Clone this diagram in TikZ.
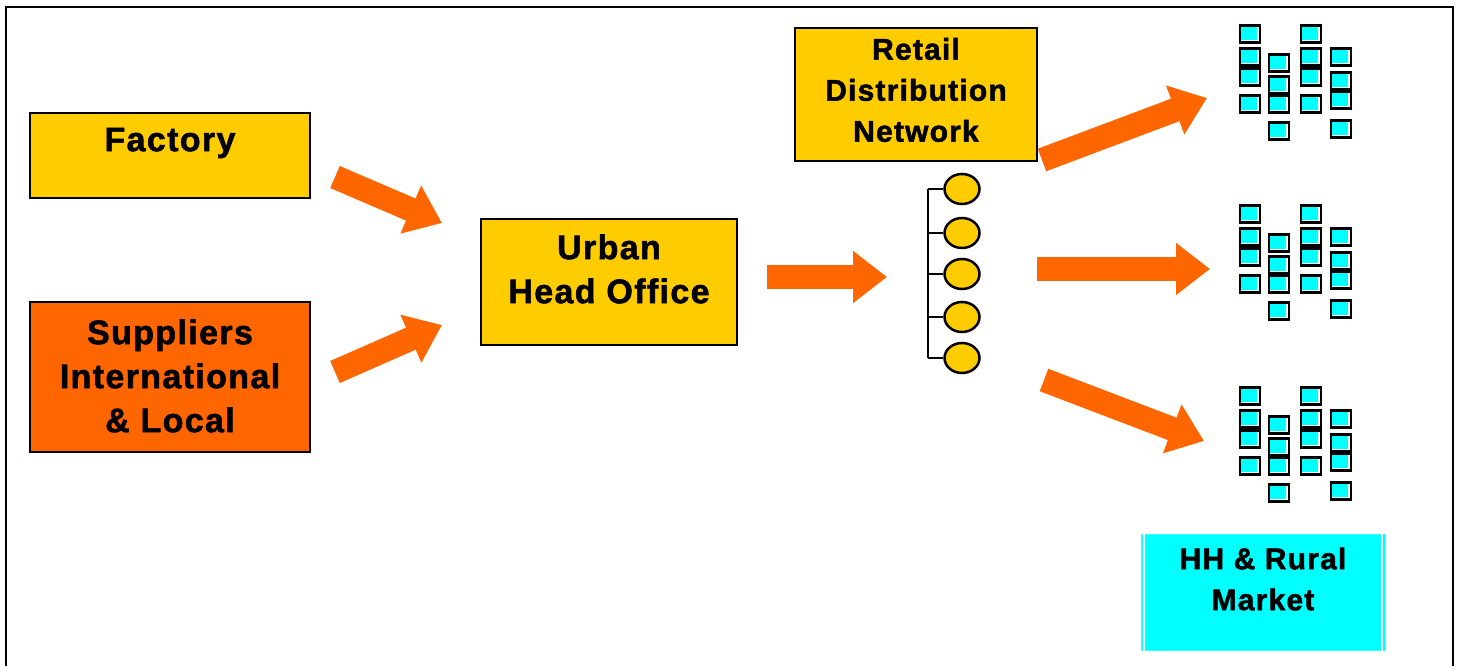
\documentclass[tikz,border=0pt]{standalone}
\usepackage{fontspec}
\newfontfamily\labfont{Liberation Sans}[UprightFont={* Bold}, FakeBold=1.6, LetterSpace=4]
\usetikzlibrary{arrows.meta,shapes.geometric}
\definecolor{gold}{HTML}{FFCC00}
\definecolor{flame}{HTML}{FF6600}
\definecolor{aqua}{HTML}{00FFFF}
\tikzset{
  box/.style={draw=black, line width=2pt, rectangle, inner sep=0pt},
  lbl/.style={font=\labfont\fontsize{34}{44}\selectfont, align=center, inner sep=0pt},
  smalllbl/.style={font=\labfont\fontsize{30}{41}\selectfont, align=center, inner sep=0pt},
  blockarrow/.style={draw=flame, line width=24pt,
    -{Triangle[width=50pt,length=34pt]}},
  outlet/.style={ellipse, draw=black, line width=2.5pt, fill=gold,
    minimum width=35pt, minimum height=30pt, inner sep=0pt},
  stem/.style={draw=black, line width=2.5pt},
  frame/.style={draw=black, line width=2pt},
}
\begin{document}
\begin{tikzpicture}[x=1pt,y=-1pt]
\useasboundingbox (0,0) rectangle (1460,666);
\fill[white] (0,0) rectangle (1460,666);

% outer frame, open at the bottom
\draw[frame] (6,670) -- (6,7) -- (1453,7) -- (1453,670);

% source boxes
\node[box, fill=gold, minimum width=280pt, minimum height=85pt] (factory) at (170,155.5) {};
\node[lbl] (factoryT) at (170,143) {Factory};
\node[box, fill=flame, minimum width=280pt, minimum height=150pt] (suppliers) at (170,377) {};
\node[lbl] (suppliersT) at (170,376) {Suppliers\\International\\\& Local};

% head office
\node[box, fill=gold, minimum width=256pt, minimum height=126pt] (office) at (609,282) {};
\node[lbl] (officeT) at (609,269) {Urban\\Head Office};

% retail distribution network
\node[box, fill=gold, minimum width=242pt, minimum height=133pt] (retail) at (916,94.5) {};
\node[smalllbl] (retailT) at (916,90) {Retail\\Distribution\\Network};

% distribution tree of outlets
\coordinate (treeTop) at (928,189);
\coordinate (treeBot) at (928,358);
\draw[stem] (treeTop) -- (treeBot);
\foreach \i/\yy in {1/189,2/233,3/274,4/317,5/358}{
  \node[outlet] (out\i) at (962,\yy) {};
  \draw[stem] (928,\yy) -- (out\i.west);
}

% market box
\node[rectangle, fill=aqua, draw=aqua!80, line width=1pt, minimum width=244pt, minimum height=116pt, inner sep=0pt] (market) at (1263,592) {};
\draw[white, line width=1.2pt] ([shift={(3.5,-3.5)}]market.north west) rectangle ([shift={(-3.5,3.5)}]market.south east);
\node[smalllbl] (marketT) at (1263,579) {HH \& Rural\\Market};

% building clusters
\foreach \oy in {0,180,362}{
  \foreach \cx/\cy in {1250/34,1250/57,1250/77,1250/104,
                       1279/63,1279/85,1279/104,1279/131,
                       1311/34,1311/57,1311/77,1311/104,
                       1341/57,1341/81,1341/100,1341/129}{
    \filldraw[fill=white, draw=black, line width=2.5pt]
      (\cx-10,\cy+\oy-8.5) rectangle (\cx+10,\cy+\oy+8.5);
    \fill[aqua] (\cx-8.75,\cy+\oy-7.25) rectangle (\cx+6.5,\cy+\oy+6);
  }
}

% flow arrows
\coordinate (a1s) at (335,177);  \coordinate (a1e) at (442,223);
\coordinate (a2s) at (335,372);  \coordinate (a2e) at (442,325);
\coordinate (a3s) at (767,277);  \coordinate (a3e) at (887,277);
\coordinate (a4s) at (1042,160); \coordinate (a4e) at (1207,98);
\coordinate (a5s) at (1037,269); \coordinate (a5e) at (1210,269);
\coordinate (a6s) at (1044,380); \coordinate (a6e) at (1204,441);
\draw[blockarrow] (a1s) -- (a1e);
\draw[blockarrow] (a2s) -- (a2e);
\draw[blockarrow] (a3s) -- (a3e);
\draw[blockarrow] (a4s) -- (a4e);
\draw[blockarrow] (a5s) -- (a5e);
\draw[blockarrow] (a6s) -- (a6e);
\end{tikzpicture}
\end{document}
